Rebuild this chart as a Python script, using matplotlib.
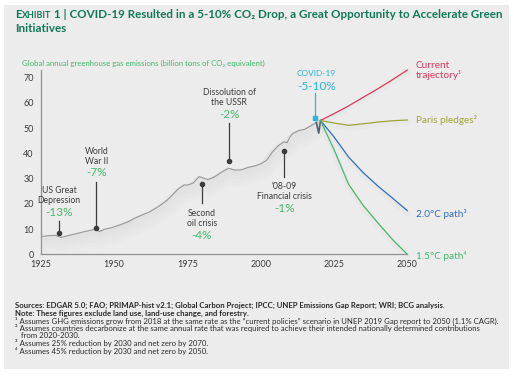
import matplotlib
matplotlib.use("Agg")
import matplotlib.pyplot as plt
import matplotlib.patheffects as pe
from matplotlib.patches import Rectangle

W, H = 514, 379
FONT = ["Lato", "DejaVu Sans"]
plt.rcParams["font.family"] = FONT

# ---- data (billion t CO2e) ----
hist_years = [1925, 1928, 1930, 1932, 1934, 1937, 1940, 1942, 1944, 1945, 1947,
              1949, 1952, 1955, 1957, 1960, 1962, 1965, 1968, 1970, 1972, 1974,
              1975, 1977, 1979, 1980, 1982, 1984, 1987, 1989, 1991, 1993, 1994,
              1996, 1998, 2000, 2002, 2004, 2006, 2008, 2009, 2010, 2011, 2013,
              2015, 2017, 2019]
hist_vals = [7.0, 7.4, 7.5, 6.7, 7.3, 8.1, 9.0, 9.5, 10.0, 9.0, 10.0,
             10.5, 11.6, 13.0, 14.3, 15.8, 16.7, 18.8, 21.3, 23.6, 26.0, 27.5,
             27.4, 28.2, 30.8, 30.4, 29.6, 30.5, 32.7, 34.1, 33.4, 33.4, 33.7,
             34.5, 35.0, 35.8, 37.2, 40.5, 43.0, 44.6, 44.2, 46.5, 47.9, 49.0,
             49.5, 50.8, 52.2]
covid_years = [2019, 2019.8, 2020.4]
covid_vals = [52.2, 48.0, 53.0]

proj_years = [2020.4, 2025, 2030, 2035, 2040, 2045, 2050]
current = [53.0, 55.7, 58.8, 62.2, 65.6, 69.2, 73.0]
paris = [53.0, 52.0, 51.1, 51.7, 52.4, 52.9, 53.2]
path_2c = [53.0, 46.5, 38.5, 32.3, 27.0, 22.2, 17.3]
path_15c = [53.0, 41.5, 27.7, 19.3, 12.4, 5.8, 0.0]

scenario_names = ["Current\ntrajectory¹", "Paris pledges²", "2.0°C path³", "1.5°C path⁴"]

# events: name, drop, year, value at marker, value at end of leader line
event_names = ["US Great\nDepression", "World\nWar II", "Dissolution of\nthe USSR",
               "Second\noil crisis", "‘08-09\nFinancial crisis"]
event_drops = ["-13%", "-7%", "-2%", "-4%", "-1%"]
event_years = [1931.3, 1944.0, 1989.3, 1979.9, 2008.0]
event_marker = [8.6, 10.5, 37.0, 27.7, 41.1]
event_line_end = [13.2, 28.8, 51.9, 20.2, 30.8]
covid_name, covid_drop = "COVID-19", "-5-10%"
covid_year, covid_marker, covid_line_end = 2018.6, 54.1, 63.8

xticks = [1925, 1950, 1975, 2000, 2025, 2050]
yticks = [0, 10, 20, 30, 40, 50, 60, 70]

title_rest = " 1 | COVID-19 Resulted in a 5-10% CO₂ Drop, a Great Opportunity to Accelerate Green"
title_line2 = "Initiatives"
ylabel = "Global annual greenhouse gas emissions (billion tons of CO₂ equivalent)"
footnotes = [
    ("Sources: EDGAR 5.0; FAO; PRIMAP-hist v2.1; Global Carbon Project; IPCC; UNEP Emissions Gap Report; WRI; BCG analysis.", "bold"),
    ("Note: These figures exclude land use, land-use change, and forestry.", "bold"),
    ("¹ Assumes GHG emissions grow from 2018 at the same rate as the \u201ccurrent policies\u201d scenario in UNEP 2019 Gap report to 2050 (1.1% CAGR).", "normal"),
    ("² Assumes countries decarbonize at the same annual rate that was required to achieve their intended nationally determined contributions", "normal"),
    ("   from 2020-2030.", "normal"),
    ("³ Assumes 25% reduction by 2030 and net zero by 2070.", "normal"),
    ("⁴ Assumes 45% reduction by 2030 and net zero by 2050.", "normal"),
]

# ---- colours ----
BG = "#ebeceb"
TITLE_C = "#12785a"
GREEN_T = "#45b86b"
DARK = "#3c3c3c"
HIST_C = "#999999"
COVID_C = "#2bb5d6"
SCEN_COLORS = ["#e0385a", "#9da53a", "#2f6ec4", "#45b86b"]
SCEN_LABEL_DY = [0, 0, -2.5, -1]     # small nudges (points) for the right-hand labels


def fx(px):
    return px / W


def fy(py):
    return 1 - py / H


fig = plt.figure(figsize=(W / 100, H / 100), dpi=100)
fig.patch.set_facecolor("white")
fig.patches.append(Rectangle((fx(4), fy(369)), fx(505), (369 - 5) / H,
                             transform=fig.transFigure, facecolor=BG,
                             edgecolor="none", zorder=-10))

ax = fig.add_axes([fx(40.7), fy(254.3), fx(407.3 - 40.7), (254.3 - 70) / H])
ax.set_facecolor("none")
ax.set_xlim(1925, 2050)
ax.set_ylim(0, 73)
for s in ("top", "right"):
    ax.spines[s].set_visible(False)
for s in ("left", "bottom"):
    ax.spines[s].set_color("#8f8f8f")
    ax.spines[s].set_linewidth(0.9)
ax.set_xticks(xticks)
ax.set_yticks(yticks)
ax.tick_params(length=0, labelsize=6.5, labelcolor=DARK)
ax.tick_params(axis="y", pad=5)
ax.tick_params(axis="x", pad=4)

# soft drop shadow under the lines
shadow = [pe.SimpleLineShadow(offset=(0, -1.5 * k), shadow_color="#b0b0b0",
                              alpha=0.035, linewidth=2 + 2.5 * k) for k in range(1, 5)]
shadow.append(pe.Normal())
light_shadow = [pe.SimpleLineShadow(offset=(0, -2), shadow_color="#b0b0b0",
                                    alpha=0.05, linewidth=4), pe.Normal()]

ax.plot(hist_years, hist_vals, color=HIST_C, lw=0.8, path_effects=shadow, zorder=3)
ax.plot(covid_years, covid_vals, color="#4e5f6b", lw=1.2, zorder=4)

for vals, col in zip([current, paris, path_2c, path_15c], SCEN_COLORS):
    ax.plot(proj_years, vals, color=col, lw=0.9, zorder=5, clip_on=False,
            path_effects=light_shadow)

# event annotations
for name, drop, yr, mv, lv in zip(event_names, event_drops, event_years,
                                  event_marker, event_line_end):
    ax.plot([yr, yr], [mv, lv], color=DARK, lw=0.9, zorder=6)
    ax.plot(yr, mv, "o", color=DARK, ms=3, zorder=6)
    if lv > mv:   # label above
        ax.annotate(drop, (yr, lv), xytext=(0, 2.5), textcoords="offset points",
                    ha="center", va="bottom", fontsize=8.5, color=GREEN_T)
        ax.annotate(name, (yr, lv), xytext=(0, 11.5), textcoords="offset points",
                    ha="center", va="bottom", fontsize=6.2, color=DARK, linespacing=1.15)
    else:         # label below
        ax.annotate(name, (yr, lv), xytext=(0, -4), textcoords="offset points",
                    ha="center", va="top", fontsize=6.2, color=DARK, linespacing=1.15)
        ax.annotate(drop, (yr, lv), xytext=(0, -19), textcoords="offset points",
                    ha="center", va="top", fontsize=8.5, color=GREEN_T)

ax.plot([covid_year, covid_year], [covid_marker, covid_line_end], color=COVID_C, lw=0.9, zorder=6,
        clip_on=False)
ax.plot(covid_year, covid_marker, "s", color=COVID_C, ms=3, zorder=6)
ax.annotate(covid_drop, (covid_year, covid_line_end), xytext=(1, 1), textcoords="offset points",
            ha="center", va="bottom", fontsize=8.5, color=COVID_C, annotation_clip=False)
ax.annotate(covid_name, (covid_year, covid_line_end), xytext=(1, 12), textcoords="offset points",
            ha="center", va="bottom", fontsize=6.0, color=COVID_C, annotation_clip=False)

# scenario labels at the right end of each path
for name, vals, col, dy in zip(scenario_names, [current, paris, path_2c, path_15c],
                               SCEN_COLORS, SCEN_LABEL_DY):
    ax.annotate(name, (proj_years[-1], vals[-1]), xytext=(6, dy), textcoords="offset points",
                ha="left", va="center", fontsize=7.2, color=col, linespacing=1.0,
                annotation_clip=False)

# y-axis title
fig.text(fx(22), fy(63.5), ylabel, fontsize=5.55, color=GREEN_T, va="center", ha="left")

# title with small-caps "Exhibit"
r = fig.canvas.get_renderer()
x0 = fx(15)
t = fig.text(x0, fy(18), "E", fontsize=8.4, fontweight="bold", color=TITLE_C, va="baseline")
bb = t.get_window_extent(r)
t2 = fig.text(bb.x1 / W, fy(18), "XHIBIT", fontsize=6.4, fontweight="bold", color=TITLE_C,
              va="baseline")
bb2 = t2.get_window_extent(r)
fig.text(bb2.x1 / W, fy(18), title_rest, fontsize=8.4, fontweight="bold", color=TITLE_C,
         va="baseline")
fig.text(x0, fy(32), title_line2, fontsize=8.4, fontweight="bold", color=TITLE_C, va="baseline")

# footnotes
for k, (line, wt) in enumerate(footnotes):
    fig.text(fx(15), fy(305.7 + 7.5 * k), line, fontsize=5.6, fontweight=wt, color="#2a2a2a",
             va="center", ha="left")

fig.savefig("out.png", dpi=100)
